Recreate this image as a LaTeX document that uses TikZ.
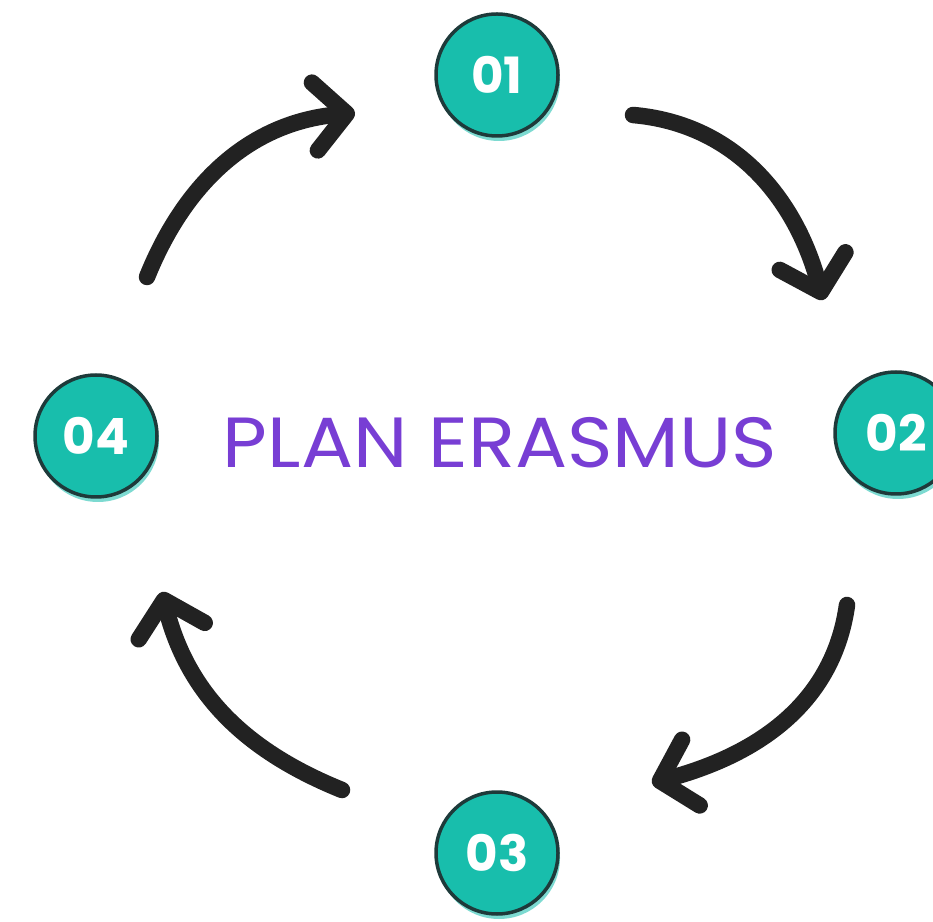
\documentclass[tikz,border=0pt]{standalone}
\usepackage{fontspec}
\setmainfont{Poppins}
\usetikzlibrary{arrows.meta, shadows}
\definecolor{bubblefill}{RGB}{24,190,172}
\definecolor{bubbleline}{RGB}{30,58,58}
\definecolor{arrowink}{RGB}{34,34,34}
\definecolor{titleplum}{RGB}{120,62,212}

\begin{document}
\begin{tikzpicture}[x=1pt, y=1pt,
  num/.style = {circle, draw=bubbleline, line width=3.5pt, fill=bubblefill, minimum size=122pt, inner sep=0pt,
    drop shadow={shadow xshift=2pt, shadow yshift=-5pt, fill=bubblefill!70, opacity=.8},
    text=white, font=\fontsize{50}{50}\selectfont\bfseries},
  cyc/.style = {draw=arrowink, line width=16.5pt, line cap=round, -{Straight Barb[length=32pt, width=68pt, round]}}]
\useasboundingbox (0,0) rectangle (933,921);
\node[num] (c1) at (497,846) {01};
\node[num] (c2) at (896,488) {02};
\node[num] (c3) at (497,68) {03};
\node[num] (c4) at (96,485) {04};
\node[text=titleplum, font=\fontsize{71}{71}\selectfont] (title) at (500,478) {\scalebox{1.09}[1]{PLAN ERASMUS}};
\coordinate (a1s) at (147,644); \coordinate (a1e) at (355,808);
\coordinate (a2s) at (633,806); \coordinate (a2e) at (823,621);
\coordinate (a3s) at (847,316); \coordinate (a3e) at (652,138);
\coordinate (a4s) at (342,131); \coordinate (a4e) at (162,329);
\draw[cyc] (a1s) to[out=68, in=185] (a1e);
\draw[cyc] (a2s) to[out=-5, in=105] (a2e);
\draw[cyc] (a3s) to[out=-98, in=15] (a3e);
\draw[cyc] (a4s) to[out=158, in=-76] (a4e);
\end{tikzpicture}
\end{document}
